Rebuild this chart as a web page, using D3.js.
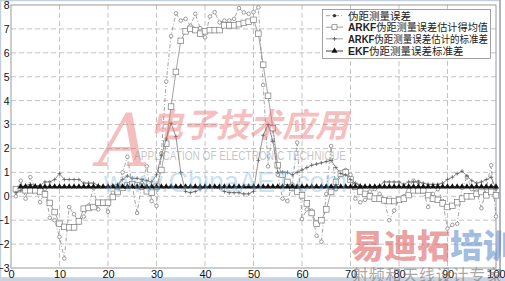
<!DOCTYPE html>
<html><head><meta charset="utf-8">
<script src="https://cdn.jsdelivr.net/npm/d3@7"></script>
<style>
html,body{margin:0;padding:0;background:#fff;}
svg{display:block;}
</style></head>
<body>
<svg id="c" width="505" height="281"></svg>
<script>
// ---- data ----
const epochs = d3.range(1, 101);
const measErr = [0.0, 0.65, -0.1, 0.8, 0.35, -0.25, 0.3, -0.9, -1.0, -1.7,
 -2.6, -0.45, -0.75, -1.1, -0.85, -0.4, 0.35, -0.55, -0.3, -0.65,
 0.15, 0.25, 1.0, 1.65, 0.45, -0.7, 0.55, 1.25, -0.2, -0.4,
 1.8, 4.8, 6.7, 7.65, 7.35, 7.42, 7.13, 7.63, 7.03, 6.65,
 7.52, 7.7, 7.27, 7.35, 7.35, 7.42, 7.87, 7.69, 7.63, 7.7,
 7.9, 4.65, 1.25, 2.9, 0.9, -0.1, -0.2, 0.5, 2.25, -0.95,
 -0.55, -0.6, -1.65, -1.9, 0.1, 2.1, 0.3, 0.9, 1.1, 0.9,
 -0.1, -0.25, -0.15, 0.2, 0.3, 0.1, -0.2, -1.0, -0.6, -0.1,
 0.0, 0.4, 0.65, 0.6, 0.2, -0.45, 0.1, 0.3, -0.2, -1.35,
 -1.2, -1.15, 0.35, 0.8, 0.3, 0.2, -0.5, 0.35, 1.3, -0.85];
const arkfMean = [0.3, 0.3, 0.25, 0.25, 0.25, 0.2, 0.08, -0.28, -0.66, -1.15,
 -1.28, -1.3, -1.3, -1.05, -0.52, -0.49, -0.45, -0.27, -0.27, -0.27,
 -0.03, 0.18, 0.35, 0.45, 0.5, 0.45, 0.4, 0.21, 0.15, 0.4,
 1.1, 2.2, 3.75, 5.2, 6.5, 6.9, 7.0, 6.95, 6.8, 6.9,
 6.95, 6.95, 6.95, 7.15, 7.15, 7.15, 7.2, 7.25, 7.3, 7.38,
 6.8, 5.5, 4.2, 2.85, 1.3, 0.9, 0.6, 0.35, 0.2, 0.04,
 -0.3, -0.7, -1.15, -1.0, -0.55, 0.18, 0.6, 0.95, 1.0, 0.7,
 0.4, 0.2, 0.1, 0.0, -0.1, -0.1, -0.17, -0.2, -0.2, -0.15,
 -0.1, 0.05, 0.25, 0.25, 0.25, 0.05, -0.1, -0.15, -0.3, -0.45,
 -0.4, -0.25, -0.1, 0.0, 0.0, 0.1, 0.18, 0.04, 0.18, 0.04];
const arkfStd = [0.15, 0.25, 0.45, 0.5, 0.45, 0.45, 0.6, 0.6, 0.7, 0.95,
 0.7, 0.7, 0.7, 0.7, 0.55, 0.55, 0.55, 0.45, 0.4, 0.4,
 0.45, 0.5, 0.7, 0.85, 0.75, 0.75, 0.7, 0.65, 0.6, 0.9,
 1.7, 2.4, 3.05, 2.5, 1.0, 0.2, 0.15, 0.2, 0.3, 0.4,
 0.4, 0.4, 0.35, 0.2, 0.15, 0.15, 0.15, 0.1, 0.1, 0.2,
 1.5, 2.55, 3.0, 2.3, 1.0, 1.0, 1.0, 0.9, 1.0, 1.1,
 1.2, 1.3, 1.35, 1.4, 1.45, 1.5, 1.2, 0.95, 0.9, 0.7,
 0.55, 0.45, 0.4, 0.4, 0.4, 0.45, 0.6, 0.6, 0.6, 0.6,
 0.5, 0.6, 0.6, 0.6, 0.55, 0.5, 0.5, 0.5, 0.55, 0.7,
 0.8, 0.95, 1.05, 0.85, 0.65, 0.55, 0.6, 0.7, 0.8, 0.3];
// EKF std starts at epoch 2
const ekfStd = [0.4, 0.4, 0.4, 0.4, 0.4, 0.4, 0.4, 0.4, 0.4,
 0.4, 0.4, 0.4, 0.4, 0.4, 0.4, 0.4, 0.4, 0.4, 0.4,
 0.4, 0.4, 0.4, 0.4, 0.4, 0.4, 0.4, 0.4, 0.4, 0.4,
 0.4, 0.4, 0.4, 0.4, 0.4, 0.4, 0.4, 0.4, 0.4, 0.4,
 0.4, 0.4, 0.4, 0.4, 0.4, 0.4, 0.4, 0.4, 0.4, 0.4,
 0.4, 0.4, 0.4, 0.4, 0.4, 0.4, 0.4, 0.4, 0.4, 0.4,
 0.4, 0.4, 0.4, 0.4, 0.4, 0.4, 0.4, 0.4, 0.4, 0.4,
 0.4, 0.4, 0.4, 0.4, 0.4, 0.4, 0.4, 0.4, 0.4, 0.4,
 0.4, 0.4, 0.4, 0.4, 0.4, 0.4, 0.4, 0.4, 0.4, 0.4,
 0.4, 0.4, 0.4, 0.4, 0.4, 0.4, 0.4, 0.4, 0.4, 0.4];
const xTicks = [0, 10, 20, 30, 40, 50, 60, 70, 80, 90, 100];
const yTicks = [-3, -2, -1, 0, 1, 2, 3, 4, 5, 6, 7, 8];
const legendPrefix = ["", "ARKF", "ARKF", "EKF"];
const legendLabels = ["伪距测量误差", "伪距测量误差估计得均值", "伪距测量误差估计的标准差", "伪距测量误差标准差"];

// ---- chart ----
const svg = d3.select("#c");
const L = 11, R = 496, T = 5, B = 268;
const x = d3.scaleLinear().domain([0, 100]).range([L, R]);
const y = d3.scaleLinear().domain([-3, 8]).range([B, T]);

// outer frame
svg.append("rect").attr("x", 0.5).attr("y", 0.5).attr("width", 499.5).attr("height", 277.5)
  .attr("fill", "none").attr("stroke", "#c5d0de").attr("stroke-width", 1.5);
svg.append("line").attr("x1", 500).attr("x2", 500).attr("y1", 0).attr("y2", 278)
  .attr("stroke", "#8a8f96").attr("stroke-width", 1);
svg.append("rect").attr("x", 0).attr("y", 278).attr("width", 505).attr("height", 3).attr("fill", "#c8d3e2");

// grid
const grid = svg.append("g");
grid.selectAll(".gx").data(xTicks.slice(1, -1)).join("line")
  .attr("x1", d => x(d)).attr("x2", d => x(d)).attr("y1", T).attr("y2", B)
  .attr("stroke", "#b4b4b4").attr("stroke-dasharray", "5,3").attr("stroke-width", 0.8);
grid.selectAll(".gy").data(yTicks.slice(1, -1)).join("line")
  .attr("x1", L).attr("x2", R).attr("y1", d => y(d)).attr("y2", d => y(d))
  .attr("stroke", "#b4b4b4").attr("stroke-dasharray", "5,3").attr("stroke-width", 0.8);

// axes labels via d3 axes
const ax = svg.append("g").attr("transform", `translate(0,${B})`)
  .call(d3.axisBottom(x).tickValues(xTicks).tickSize(0).tickPadding(2).tickFormat(d3.format("d")));
ax.select(".domain").remove();
ax.selectAll("text").attr("font-family", "Liberation Sans, Arial, sans-serif").attr("font-size", 11).attr("fill", "#111");
const ay = svg.append("g").attr("transform", `translate(${L},0)`)
  .call(d3.axisLeft(y).tickValues(yTicks).tickSize(0).tickPadding(1.5).tickFormat(d3.format("d")));
ay.select(".domain").remove();
ay.selectAll("text").attr("font-family", "Liberation Sans, Arial, sans-serif").attr("font-size", 10.5).attr("fill", "#111");

// plot box
svg.append("rect").attr("x", L).attr("y", T).attr("width", R - L).attr("height", B - T)
  .attr("fill", "none").attr("stroke", "#9a9a9a").attr("stroke-width", 1);

const line = d3.line().x(d => x(d[0])).y(d => y(d[1]));
const measPts = epochs.map((e, i) => [e, measErr[i]]);
const meanPts = epochs.map((e, i) => [e, arkfMean[i]]);
const stdPts = epochs.map((e, i) => [e, arkfStd[i]]);
const ekfPts = ekfStd.map((v, i) => [epochs[i + 1], v]);

const plot = svg.append("g");
// measurement error: dash-dot with small circles
plot.append("path").datum(measPts).attr("d", line).attr("fill", "none")
  .attr("stroke", "#8c8c8c").attr("stroke-width", 0.8).attr("stroke-dasharray", "4,2,1,2");
plot.selectAll(".mc").data(measPts).join("circle")
  .attr("cx", d => x(d[0])).attr("cy", d => y(d[1])).attr("r", 1.8)
  .attr("fill", "#fff").attr("stroke", "#777").attr("stroke-width", 0.7);

// ARKF mean: solid with open squares
plot.append("path").datum(meanPts).attr("d", line).attr("fill", "none")
  .attr("stroke", "#8c8c8c").attr("stroke-width", 0.8);
plot.selectAll(".ms").data(meanPts).join("rect")
  .attr("x", d => x(d[0]) - 2.8).attr("y", d => y(d[1]) - 2.8).attr("width", 5.6).attr("height", 5.6)
  .attr("fill", "#fff").attr("stroke", "#7a7a7a").attr("stroke-width", 0.7);

// ARKF std: solid with plus
plot.append("path").datum(stdPts).attr("d", line).attr("fill", "none")
  .attr("stroke", "#7a7a7a").attr("stroke-width", 0.8);
plot.selectAll(".sp").data(stdPts).join("path")
  .attr("d", d => `M${x(d[0]) - 2},${y(d[1])}h4M${x(d[0])},${y(d[1]) - 2}v4`)
  .attr("stroke", "#555").attr("stroke-width", 0.7);

// EKF std: black with filled triangles
plot.append("path").datum(ekfPts).attr("d", line).attr("fill", "none")
  .attr("stroke", "#111").attr("stroke-width", 0.9);
const tri = d3.symbol().type(d3.symbolTriangle).size(16);
plot.selectAll(".et").data(ekfPts).join("path")
  .attr("transform", d => `translate(${x(d[0])},${y(d[1])})`).attr("d", tri)
  .attr("fill", "#111");

// legend
const lg = svg.append("g");
lg.append("rect").attr("x", 322.5).attr("y", 9.5).attr("width", 168).attr("height", 49)
  .attr("fill", "#fff").attr("stroke", "#8a8a8a").attr("stroke-width", 0.8);
const rowsY = [15.7, 27.2, 38.8, 51];
legendLabels.forEach((lab, i) => {
  const yy = rowsY[i];
  const g = lg.append("g");
  const ln = g.append("line").attr("x1", 326).attr("x2", 343).attr("y1", yy).attr("y2", yy)
    .attr("stroke", i === 3 ? "#111" : "#888").attr("stroke-width", 0.8);
  if (i === 0) {
    ln.attr("stroke-dasharray", "4,2,1,2");
    g.append("circle").attr("cx", 334.5).attr("cy", yy).attr("r", 1.6).attr("fill", "#333");
  } else if (i === 1) {
    g.append("rect").attr("x", 332).attr("y", yy - 2.5).attr("width", 5).attr("height", 5)
      .attr("fill", "#fff").attr("stroke", "#777").attr("stroke-width", 0.7);
  } else if (i === 2) {
    g.append("path").attr("d", `M${332.5},${yy}h4M${334.5},${yy - 2}v4`).attr("stroke", "#444").attr("stroke-width", 0.7);
  } else {
    g.append("path").attr("transform", `translate(334.5,${yy})`).attr("d", tri).attr("fill", "#111");
  }
  const t = g.append("text").attr("x", 348).attr("y", yy + 4)
    .attr("font-size", 10.5).attr("fill", "#222");
  if (legendPrefix[i]) {
    t.append("tspan").text(legendPrefix[i]).attr("font-family", "Liberation Sans, Arial, sans-serif").attr("font-weight", 700);
  }
  t.append("tspan").text(lab).attr("font-family", "Noto Sans CJK SC, sans-serif").attr("font-weight", 400);
  const w = t.node().getComputedTextLength();
  if (w > 140) t.attr("textLength", 140).attr("lengthAdjust", "spacingAndGlyphs");
});

// watermarks
const wm = svg.append("g").attr("pointer-events", "none");
wm.append("text").attr("x", 98).attr("y", 166).text("A")
  .attr("font-family", "DejaVu Serif, serif").attr("font-style", "italic").attr("font-size", 72)
  .attr("fill", "rgba(232,110,110,0.45)");
wm.append("text").attr("x", 150).attr("y", 137).text("电子技术应用")
  .attr("font-family", "Noto Sans CJK SC").attr("font-weight", 700).attr("font-size", 33)
  .attr("textLength", 198).attr("fill", "rgba(235,110,110,0.45)").attr("font-style", "italic");
wm.append("text").attr("x", 134).attr("y", 160).text("APPLICATION OF ELECTRONIC TECHNIQUE")
  .attr("font-family", "Liberation Sans, Arial, sans-serif").attr("font-size", 13)
  .attr("textLength", 212).attr("lengthAdjust", "spacingAndGlyphs").attr("fill", "rgba(140,140,140,0.5)");
wm.append("text").attr("x", 104).attr("y", 192).text("www.ChinaAET.com")
  .attr("font-family", "Liberation Sans, Arial, sans-serif").attr("font-size", 30)
  .attr("textLength", 243).attr("lengthAdjust", "spacingAndGlyphs").attr("fill", "rgba(120,180,220,0.4)");
const yd = wm.append("text").attr("x", 351).attr("y", 258)
  .attr("font-family", "Noto Sans CJK SC").attr("font-weight", 900).attr("font-size", 33);
yd.append("tspan").text("易迪拓").attr("fill", "rgba(220,100,100,0.6)");
yd.append("tspan").text("培训").attr("fill", "rgba(100,145,205,0.6)");
wm.append("text").attr("x", 352).attr("y", 281).text("射频和天线设计专家")
  .attr("font-family", "Noto Sans CJK SC").attr("font-size", 16)
  .attr("textLength", 150).attr("fill", "rgba(110,110,110,0.6)");
</script>
</body></html>
